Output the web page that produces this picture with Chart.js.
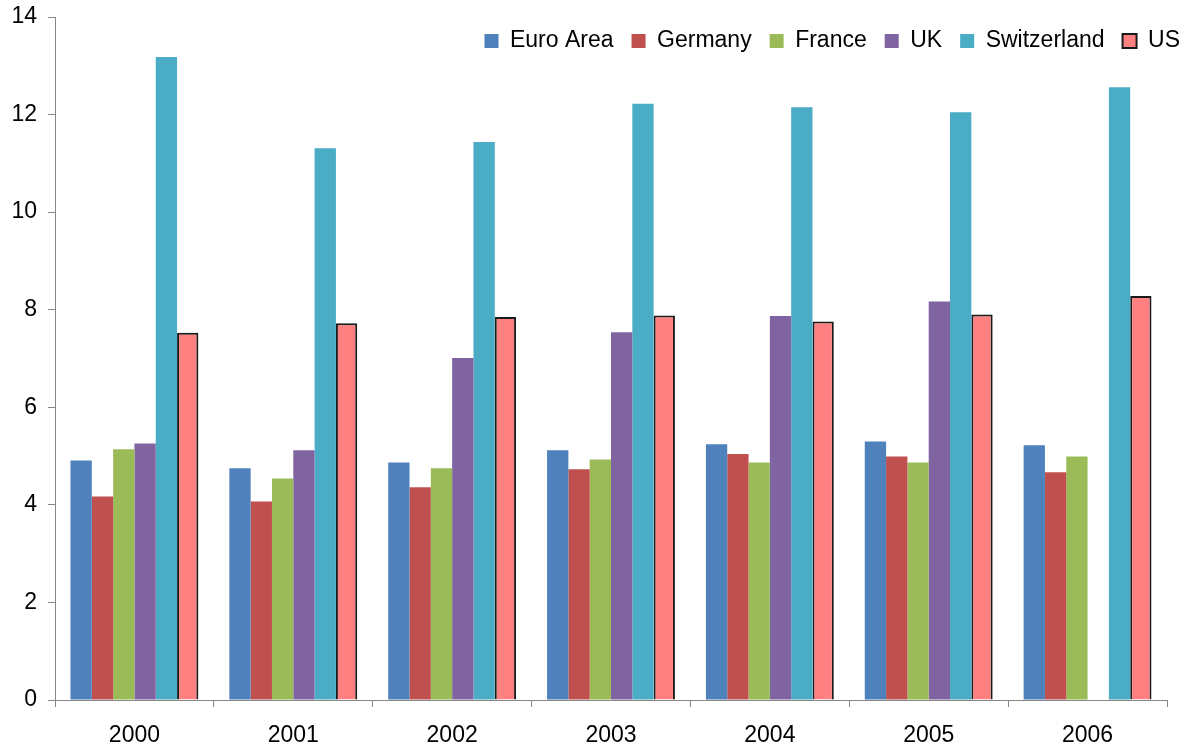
<!DOCTYPE html>
<html>
<head>
<meta charset="utf-8">
<script src="https://cdn.jsdelivr.net/npm/chart.js@4/dist/chart.umd.min.js"></script>
<style>
  html, body { margin: 0; padding: 0; background: #fff; }
  #wrap { width: 1187px; height: 747px; position: relative; }
</style>
</head>
<body>
<div id="wrap"><canvas id="c"></canvas></div>
<script>
const years = ['2000', '2001', '2002', '2003', '2004', '2005', '2006'];
const euroArea = [4.91, 4.75, 4.87, 5.12, 5.24, 5.30, 5.22];
const germany = [4.17, 4.07, 4.36, 4.73, 5.04, 4.99, 4.67];
const france = [5.14, 4.54, 4.75, 4.93, 4.87, 4.87, 4.99];
const uk = [5.26, 5.12, 7.01, 7.54, 7.87, 8.17, null];
const switzerland = [13.18, 11.31, 11.44, 12.22, 12.15, 12.05, 12.56];
const us = [7.53, 7.72, 7.85, 7.88, 7.76, 7.90, 8.28];
const yTicks = [0, 2, 4, 6, 8, 10, 12, 14];

const FONT = "'Liberation Sans', Arial, sans-serif";
const FSIZE = 23;
const AXIS = '#868686';

// Legend overlays the plot area (takes no layout space), placed at top right
const legendOverlay = {
  id: 'legendOverlay',
  beforeLayout(chart) {
    const lg = chart.legend;
    if (lg && !lg._patched) {
      const orig = lg.fit;
      lg.fit = function () { orig.call(this); this._realHeight = this.height; this.height = 0; };
      lg._patched = true;
    }
  },
  afterLayout(chart) {
    const lg = chart.legend;
    if (!lg) return;
    const dx = 31;
    lg.left += dx; lg.right += dx;
    lg.top = 11.5;
    lg.height = lg._realHeight || 0;
    lg.bottom = lg.top + lg.height;
  }
};

const ds = (label, data, color, extra) => Object.assign({
  label, data, backgroundColor: color, borderWidth: 0
}, extra || {});

new Chart(document.getElementById('c'), {
  type: 'bar',
  data: {
    labels: years,
    datasets: [
      ds('Euro Area', euroArea, '#4F81BD'),
      ds('Germany', germany, '#C0504D'),
      ds('France', france, '#9BBB59'),
      ds('UK', uk, '#8064A2'),
      ds('Switzerland', switzerland, '#4BACC6'),
      ds('US', us, '#FF8080', { borderColor: '#1a1a1a', borderWidth: 2, borderSkipped: 'bottom' })
    ]
  },
  plugins: [legendOverlay],
  options: {
    responsive: true,
    maintainAspectRatio: false,
    animation: false,
    devicePixelRatio: 1,
    layout: { padding: { left: 13, right: 20, top: 17, bottom: 0 } },
    datasets: { bar: { categoryPercentage: 0.805, barPercentage: 1.0 } },
    plugins: {
      tooltip: { enabled: false },
      legend: {
        position: 'top',
        align: 'end',
        labels: {
          boxWidth: 14,
          boxHeight: 14,
          padding: 18,
          color: '#000',
          font: { family: FONT, size: FSIZE }
        }
      }
    },
    scales: {
      x: {
        afterFit(scale) { scale.height = 47; },
        grid: { display: true, offset: true, drawOnChartArea: false, drawTicks: true, tickLength: 7, color: AXIS },
        border: { display: true, color: AXIS, width: 1 },
        ticks: { color: '#000', padding: 15, font: { family: FONT, size: FSIZE }, maxRotation: 0 }
      },
      y: {
        min: 0,
        max: 14,
        afterFit(scale) { scale.width = 42; scale.paddingTop = 0; },
        afterBuildTicks(scale) { scale.ticks = yTicks.map(v => ({ value: v })); },
        grid: { display: true, drawOnChartArea: false, drawTicks: true, tickLength: 7, color: AXIS },
        border: { display: true, color: AXIS, width: 1 },
        ticks: { color: '#000', padding: 11, font: { family: FONT, size: FSIZE } }
      }
    }
  }
});
</script>
</body>
</html>
